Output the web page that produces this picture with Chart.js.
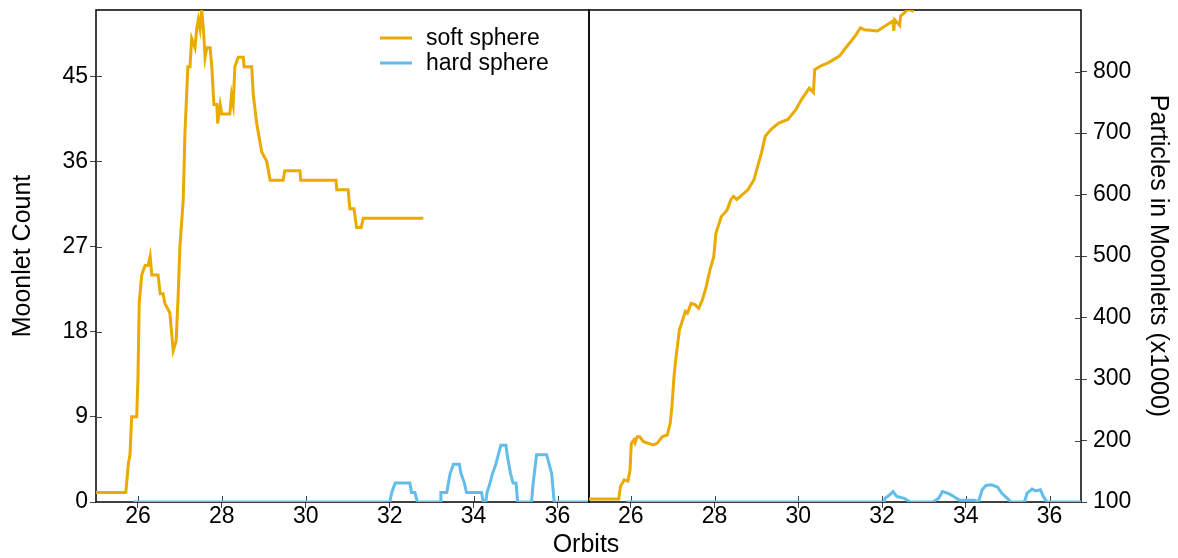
<!DOCTYPE html>
<html>
<head>
<meta charset="utf-8">
<script src="https://cdn.jsdelivr.net/npm/chart.js@4.4.0/dist/chart.umd.min.js"></script>
<style>
  body { margin: 0; background: #fff; width: 1178px; height: 558px; position: relative; overflow: hidden; font-family: "Liberation Sans", Arial, sans-serif; }
  #leftPanel { position: absolute; left: 0; top: 0; }
  #rightPanel { position: absolute; left: 580px; top: 0; }
  #xTitle { position: absolute; left: 486px; top: 528px; width: 200px; text-align: center; font-size: 25px; line-height: 30px; color: #000; }
</style>
</head>
<body>
<canvas id="leftPanel" width="600" height="558"></canvas>
<canvas id="rightPanel" width="598" height="558"></canvas>
<div id="xTitle">Orbits</div>
<script>
// tick labels
const orbitTicks = [26, 28, 30, 32, 34, 36];
const countTicks = [0, 9, 18, 27, 36, 45];
const particleTicks = [100, 200, 300, 400, 500, 600, 700, 800];
const seriesNames = ['soft sphere', 'hard sphere'];

// left panel: moonlet count
const softCountX = [25.0, 25.71, 25.77, 25.81, 25.85, 25.97, 26.0, 26.03, 26.09, 26.17, 26.24, 26.29, 26.33, 26.48, 26.53, 26.6, 26.64, 26.76, 26.84, 26.91, 26.96, 27.0, 27.08, 27.12, 27.19, 27.24, 27.28, 27.36, 27.4, 27.44, 27.48, 27.52, 27.56, 27.6, 27.64, 27.72, 27.76, 27.81, 27.88, 27.9, 27.96, 28.0, 28.19, 28.23, 28.27, 28.31, 28.39, 28.51, 28.53, 28.71, 28.75, 28.83, 28.91, 28.95, 29.07, 29.11, 29.15, 29.46, 29.5, 29.86, 29.88, 30.72, 30.74, 31.01, 31.05, 31.15, 31.21, 31.32, 31.37, 32.8];
const softCountY = [1, 1, 4, 5, 9, 9, 13, 21, 24, 25, 25, 26, 24, 24, 22, 22, 21, 20, 16, 17, 22, 27, 32, 39, 46, 46, 49, 48, 50, 51, 50, 52, 50, 47, 48, 48, 46, 42, 42, 40, 42, 41, 41, 43, 42, 46, 47, 47, 46, 46, 43, 40, 38, 37, 36, 35, 34, 34, 35, 35, 34, 34, 33, 33, 31, 31, 29, 29, 30, 30];
const hardCountX = [25.89, 32.0, 32.05, 32.13, 32.48, 32.52, 32.6, 32.66, 33.2, 33.22, 33.36, 33.4, 33.44, 33.52, 33.66, 33.7, 33.78, 33.83, 34.19, 34.23, 34.29, 34.32, 34.39, 34.45, 34.53, 34.59, 34.65, 34.77, 34.8, 34.88, 34.94, 35.01, 35.05, 35.38, 35.42, 35.5, 35.74, 35.8, 35.86, 35.92, 36.75];
const hardCountY = [0, 0, 1, 2, 2, 1, 1, 0, 0, 1, 1, 2, 3, 4, 4, 3, 2, 1, 1, 0, 0, 1, 2, 3, 4, 5, 6, 6, 5, 3, 2, 2, 0, 0, 2, 5, 5, 4, 3, 0, 0];

// right panel: particles in moonlets (x1000)
const softPartX = [25.0, 25.71, 25.75, 25.84, 25.93, 25.98, 26.01, 26.07, 26.1, 26.15, 26.21, 26.3, 26.53, 26.62, 26.75, 26.87, 26.94, 26.98, 27.03, 27.07, 27.12, 27.16, 27.25, 27.3, 27.35, 27.44, 27.53, 27.62, 27.71, 27.8, 27.89, 27.98, 28.03, 28.16, 28.3, 28.39, 28.45, 28.53, 28.8, 28.94, 29.03, 29.12, 29.21, 29.35, 29.53, 29.75, 29.94, 30.07, 30.26, 30.36, 30.39, 30.53, 30.71, 30.98, 31.16, 31.35, 31.48, 31.58, 31.89, 32.07, 32.26, 32.28, 32.3, 32.42, 32.44, 32.62, 32.76];
const softPartY = [105, 105, 125, 136, 134, 152, 195, 201, 196, 206, 206, 198, 193, 195, 206, 209, 228, 255, 304, 331, 358, 380, 399, 410, 407, 423, 421, 415, 429, 450, 478, 499, 537, 564, 575, 592, 597, 592, 608, 624, 646, 668, 695, 706, 716, 722, 738, 754, 773, 766, 803, 809, 814, 825, 841, 857, 871, 868, 866, 874, 882, 866, 884, 875, 890, 901, 898];
const hardPartX = [25.89, 32.05, 32.07, 32.17, 32.26, 32.35, 32.53, 32.67, 33.21, 33.35, 33.44, 33.58, 33.71, 33.85, 34.21, 34.3, 34.39, 34.48, 34.62, 34.76, 34.85, 34.99, 35.08, 35.4, 35.46, 35.58, 35.67, 35.78, 35.85, 35.94, 36.75];
const hardPartY = [100, 100, 106, 111, 117, 109, 106, 100, 100, 106, 117, 114, 109, 103, 103, 100, 120, 127, 128, 124, 115, 106, 100, 100, 114, 121, 118, 120, 109, 100, 100];

const softColor = '#EAAA00';
const hardColor = '#62BDEA';

Chart.defaults.font.family = '"Liberation Sans", Arial, sans-serif';
Chart.defaults.color = '#000';

function pts(xs, ys) {
  return xs.map((x, i) => ({ x: x, y: ys[i] }));
}

function lineSet(label, color, xs, ys) {
  return {
    label: label,
    data: pts(xs, ys),
    borderColor: color,
    backgroundColor: color,
    borderWidth: 3,
    pointRadius: 0,
    tension: 0,
    fill: false
  };
}

// no extra room for half labels, the plot box is fixed by the layout padding
function noPad(s) {
  s.paddingTop = 0;
  s.paddingBottom = 0;
  s.paddingLeft = 0;
  s.paddingRight = 0;
}

// box round the plot area plus the inner half of each tick mark
const frame = {
  id: 'frame',
  beforeDatasetsDraw(chart) {
    const ctx = chart.ctx;
    const a = chart.chartArea;
    ctx.save();
    ctx.strokeStyle = '#000';
    ctx.lineWidth = 1.5;
    ctx.strokeRect(a.left, a.top, a.right - a.left, a.bottom - a.top);
    ctx.strokeStyle = '#444';
    ctx.lineWidth = 1;
    Object.values(chart.scales).forEach(s => {
      s.ticks.forEach(t => {
        const p = Math.round(s.getPixelForValue(t.value)) + 0.5;
        ctx.beginPath();
        if (s.isHorizontal()) {
          ctx.moveTo(p, a.bottom);
          ctx.lineTo(p, a.bottom - 6);
        } else if (s.position === 'left') {
          ctx.moveTo(a.left, p);
          ctx.lineTo(a.left + 6, p);
        } else {
          ctx.moveTo(a.right, p);
          ctx.lineTo(a.right - 6, p);
        }
        ctx.stroke();
      });
    });
    ctx.restore();
  }
};

const legendBox = {
  id: 'legendBox',
  afterDatasetsDraw(chart) {
    const ctx = chart.ctx;
    ctx.save();
    ctx.font = '23px "Liberation Sans", Arial, sans-serif';
    ctx.textBaseline = 'middle';
    chart.data.datasets.forEach((ds, i) => {
      const y = 38 + i * 25;
      ctx.strokeStyle = ds.borderColor;
      ctx.lineWidth = 3;
      ctx.beginPath();
      ctx.moveTo(380, y);
      ctx.lineTo(412, y);
      ctx.stroke();
      ctx.fillStyle = '#000';
      ctx.fillText(ds.label, 426, y + 1);
    });
    ctx.restore();
  }
};

function orbitAxis() {
  return {
    type: 'linear',
    min: 25,
    max: 36.75,
    afterBuildTicks: s => { s.ticks = orbitTicks.map(v => ({ value: v })); },
    afterFit: s => { s.height = 56; noPad(s); },
    grid: { display: true, drawOnChartArea: false, drawTicks: true, tickLength: 6, color: '#444' },
    border: { display: false },
    ticks: { font: { size: 23, lineHeight: 1 }, color: '#000', padding: -3, maxRotation: 0, autoSkip: false }
  };
}

new Chart(document.getElementById('leftPanel'), {
  type: 'line',
  data: {
    datasets: [
      lineSet(seriesNames[0], softColor, softCountX, softCountY),
      lineSet(seriesNames[1], hardColor, hardCountX, hardCountY)
    ]
  },
  options: {
    responsive: false,
    animation: false,
    devicePixelRatio: 1,
    layout: { padding: { left: 0, top: 10, right: 11, bottom: 0 } },
    plugins: { legend: { display: false }, tooltip: { enabled: false } },
    scales: {
      x: orbitAxis(),
      y: {
        type: 'linear',
        position: 'left',
        min: 0,
        max: 52,
        afterBuildTicks: s => { s.ticks = countTicks.map(v => ({ value: v })); },
        afterFit: s => { s.width = 96; noPad(s); },
        grid: { display: true, drawOnChartArea: false, drawTicks: true, tickLength: 6, color: '#444' },
        border: { display: false },
        ticks: { font: { size: 23, lineHeight: 1 }, color: '#000', padding: 2 },
        title: { display: true, text: 'Moonlet Count', font: { size: 25, lineHeight: 1.2 }, color: '#000', padding: { top: 8, bottom: 0 } }
      }
    }
  },
  plugins: [frame, legendBox]
});

new Chart(document.getElementById('rightPanel'), {
  type: 'line',
  data: {
    datasets: [
      lineSet(seriesNames[0], softColor, softPartX, softPartY),
      lineSet(seriesNames[1], hardColor, hardPartX, hardPartY)
    ]
  },
  options: {
    responsive: false,
    animation: false,
    devicePixelRatio: 1,
    layout: { padding: { left: 9, top: 10, right: 0, bottom: 0 } },
    plugins: { legend: { display: false }, tooltip: { enabled: false } },
    scales: {
      x: orbitAxis(),
      y: {
        type: 'linear',
        position: 'right',
        min: 100,
        max: 900,
        afterBuildTicks: s => { s.ticks = particleTicks.map(v => ({ value: v })); },
        afterFit: s => { s.width = 97; noPad(s); },
        grid: { display: true, drawOnChartArea: false, drawTicks: true, tickLength: 6, color: '#444' },
        border: { display: false },
        ticks: { font: { size: 23, lineHeight: 1 }, color: '#000', padding: 6 },
        title: { display: true, text: 'Particles in Moonlets (x1000)', font: { size: 25, lineHeight: 1.2 }, color: '#000', padding: { top: 5, bottom: 0 } }
      }
    }
  },
  plugins: [frame]
});
</script>
</body>
</html>
